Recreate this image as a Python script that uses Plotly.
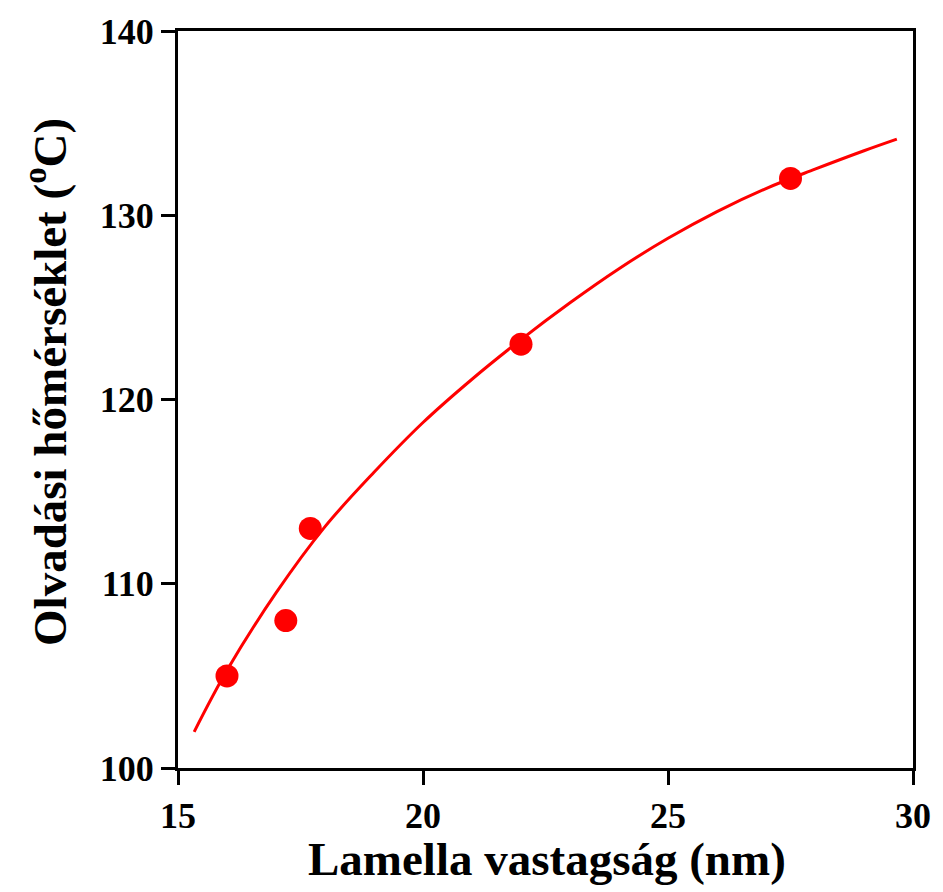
import plotly.graph_objects as go

# Measured data points
thickness_nm = [16.0, 17.2, 17.7, 22.0, 27.5]
melting_temp = [105.0, 108.0, 113.0, 123.0, 132.0]

# Fitted curve
fit_x = [15.33, 16.0, 17.0, 18.0, 19.0, 20.0, 21.0, 22.0, 23.0, 24.0, 25.0, 26.0, 27.0, 28.0, 29.0, 29.67]
fit_y = [101.96, 105.3, 109.5, 113.1, 116.05, 118.75, 121.1, 123.25, 125.25, 127.1, 128.75, 130.2, 131.45, 132.5, 133.5, 134.13]

x_ticks = [15, 20, 25, 30]
y_ticks = [100, 110, 120, 130, 140]

x_title = "Lamella vastagság (nm)"
y_title = "Olvadási hőmérséklet (<sup>o</sup>C)"

FONT = "Liberation Serif, Times New Roman, serif"

fig = go.Figure()
fig.add_trace(go.Scatter(
    x=fit_x, y=fit_y, mode="lines",
    line=dict(color="#FF0000", width=3, shape="spline", smoothing=1.0),
    showlegend=False, hoverinfo="skip",
))
fig.add_trace(go.Scatter(
    x=thickness_nm, y=melting_temp, mode="markers",
    marker=dict(color="#FF0000", size=23, line=dict(width=0)),
    showlegend=False,
))

axis_common = dict(
    showgrid=False, zeroline=False,
    showline=True, linecolor="black", linewidth=3, mirror=True,
    ticks="outside", ticklen=14, tickwidth=3, tickcolor="black",
    tickfont=dict(family=FONT, size=36, color="black", weight="bold"),
)

fig.update_layout(
    width=943, height=892,
    margin=dict(l=178, r=25, t=25, b=124),
    plot_bgcolor="white", paper_bgcolor="white",
    xaxis=dict(range=[15, 30], tickvals=x_ticks,
               ticktext=[str(v) for v in x_ticks], **axis_common),
    yaxis=dict(range=[100, 140], tickvals=y_ticks,
               ticktext=[str(v) for v in y_ticks], **axis_common),
    annotations=[
        dict(text=x_title, xref="paper", yref="paper", x=0.502, y=-0.085,
             xanchor="center", yanchor="top", showarrow=False,
             font=dict(family=FONT, size=47, color="black", weight="bold")),
        dict(text=y_title, xref="paper", yref="paper", x=-0.178, y=0.524,
             xanchor="center", yanchor="middle", textangle=-90, showarrow=False,
             font=dict(family=FONT, size=47, color="black", weight="bold")),
    ],
)

fig.write_html("out.html")
